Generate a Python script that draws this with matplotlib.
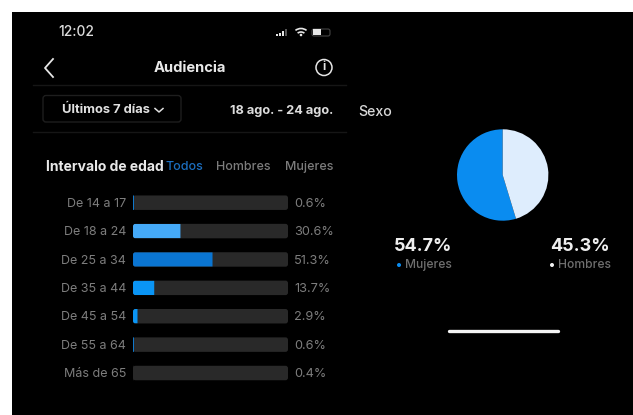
import matplotlib
matplotlib.use("Agg")
import matplotlib.pyplot as plt
from matplotlib.patches import FancyBboxPatch, Rectangle, Circle, Arc

age_groups = ["De 14 a 17", "De 18 a 24", "De 25 a 34", "De 35 a 44",
              "De 45 a 54", "De 55 a 64", "Más de 65"]
age_share = [0.6, 30.6, 51.3, 13.7, 2.9, 0.6, 0.4]
age_colors = ["#0f7fd8", "#45aaf8", "#0a75d2", "#0a95f5", "#0a95f5", "#0f7fd8", "#2a2a2a"]
gender_labels = ["Mujeres", "Hombres"]
gender_share = [54.7, 45.3]
gender_colors = ["#0a8cf0", "#deedfd"]
filter_tabs = ["Todos", "Hombres", "Mujeres"]

W, H = 633, 415
plt.rcParams["font.family"] = ["Inter", "DejaVu Sans"]

fig = plt.figure(figsize=(W / 100, H / 100), dpi=100, facecolor="white")

# Full-figure layer in pixel coordinates for the app chrome
bg = fig.add_axes([0, 0, 1, 1])
bg.set_xlim(0, W)
bg.set_ylim(H, 0)
bg.axis("off")
bg.add_patch(Rectangle((12, 12), W - 12, H - 12, color="black", lw=0))


def label(x, y, s, size, color="#e6e6e6", ha="left", weight="normal"):
    bg.text(x, y, s, fontsize=size, color=color, ha=ha, va="center", weight=weight)


# Status bar
label(58, 32.5, "12:02", 9.9, "#dcdcdc", weight="medium")
for i, h in enumerate([2, 3, 5, 6.5]):
    bg.add_patch(Rectangle((276 + i * 3, 36 - h), 2.2, h,
                           color="#e6e6e6" if i < 3 else "#555555", lw=0))
for r in (9, 5.5):
    bg.add_patch(Arc((301, 37.5), 2 * r, 2 * r, theta1=232, theta2=308,
                     color="#e6e6e6", lw=1.2))
bg.add_patch(Circle((301, 35), 1.3, color="#e6e6e6", lw=0))
bg.add_patch(FancyBboxPatch((312, 29), 18, 7, boxstyle="round,pad=0,rounding_size=2",
                            fc="none", ec="#444444", lw=0.8))
bg.add_patch(Rectangle((313, 29.5), 7.5, 6, color="#e6e6e6", lw=0))

# Navigation row
bg.plot([53, 45, 53], [59, 68, 77], color="#e6e6e6", lw=1.3)
label(190, 67.5, "Audiencia", 10.6, "#e8e8e8", ha="center", weight="bold")
bg.add_patch(Circle((324, 67.5), 8, fc="none", ec="#e6e6e6", lw=1.1))
label(324, 67.5, "i", 8.5, "#e6e6e6", ha="center", weight="bold")
bg.plot([33, 346], [85, 85], color="#161616", lw=1)

# Date range selector
bg.add_patch(FancyBboxPatch((43, 95.5), 138, 26.5, boxstyle="round,pad=0,rounding_size=3",
                            fc="black", ec="#1e1e1e", lw=1))
label(62, 109.5, "Últimos 7 días", 9.3, "#e0e0e0", weight="bold")
bg.plot([155, 159, 163], [108.5, 112, 108.5], color="#e0e0e0", lw=1.1)
label(333, 111, "18 ago. - 24 ago.", 9.2, "#dcdcdc", ha="right", weight="bold")
bg.plot([33, 346], [132, 132], color="#161616", lw=1)

# Section headings
label(46, 167, "Intervalo de edad", 10.0, "#e8e8e8", weight="bold")
for x, tab, color in zip([165.5, 216, 285], filter_tabs, ["#1c6fc0", "#7c7c7c", "#7c7c7c"]):
    label(x, 167, tab, 9.0, color, weight="medium")
label(358, 112, "Sexo", 10.2, "#d8d8d8", weight="medium")

# Age distribution bars on a 0-100 percent axis
track_left, track_right = 133, 288
top, bottom = 188.5, 387.2
ax = fig.add_axes([track_left / W, 1 - bottom / H, (track_right - track_left) / W, (bottom - top) / H])
ax.set_xlim(0, 100)
ax.set_ylim(6.5, -0.5)
ax.axis("off")
rows = list(range(len(age_groups)))
bar_h = 0.51
corner = 1.6
aspect = (track_right - track_left) / 100 / ((bottom - top) / 7)
for row in rows:
    track = FancyBboxPatch((0, row - bar_h / 2), 100, bar_h,
                           boxstyle=f"round,pad=0,rounding_size={corner}", mutation_aspect=aspect,
                           fc="#292929", ec="none", lw=0, clip_on=False)
    ax.add_patch(track)
    fill = ax.barh(row, age_share[row], height=bar_h, color=age_colors[row], lw=0)
    fill[0].set_snap(False)
    # Thin slivers stay unclipped so the rounded corner does not swallow them
    if age_share[row] > corner:
        fill[0].set_clip_path(track)
    ax.annotate(age_groups[row], (0, row), xytext=(-5, -0.8), textcoords="offset points", ha="right",
                va="center", fontsize=9.0, color="#7d7d7d", annotation_clip=False)
    ax.annotate(f"{age_share[row]}%", (100, row), xytext=(4.5, -0.8), textcoords="offset points",
                ha="left", va="center", fontsize=9.2, color="#7d7d7d", annotation_clip=False)

# Gender split pie
r = 45.7
cx, cy = 502.7, 175
pie_ax = fig.add_axes([(cx - r) / W, 1 - (cy + r) / H, 2 * r / W, 2 * r / H])
pie_ax.pie(gender_share, colors=gender_colors, startangle=90, counterclock=True, radius=1,
           wedgeprops={"linewidth": 0})
pie_ax.set_xlim(-1, 1)
pie_ax.set_ylim(-1, 1)

# Gender figures and legend
for x, val, name, dot_color, dot_x, name_x in [
    (423.5, gender_share[0], gender_labels[0], gender_colors[0], 399, 405),
    (580, gender_share[1], gender_labels[1], "#f2f2f2", 552, 558),
]:
    label(x, 246, f"{val}%", 13, "#eeeeee", ha="center", weight="bold")
    bg.add_patch(Circle((dot_x, 265), 2, color=dot_color, lw=0))
    label(name_x, 265, name, 8.7, "#6f6f6f", weight="medium")

# Home indicator
bg.plot([448.5, 557.5], [331, 331], color="#f5f5f5", lw=2.4, solid_capstyle="round")

fig.savefig("out.png", dpi=100, facecolor="white")
